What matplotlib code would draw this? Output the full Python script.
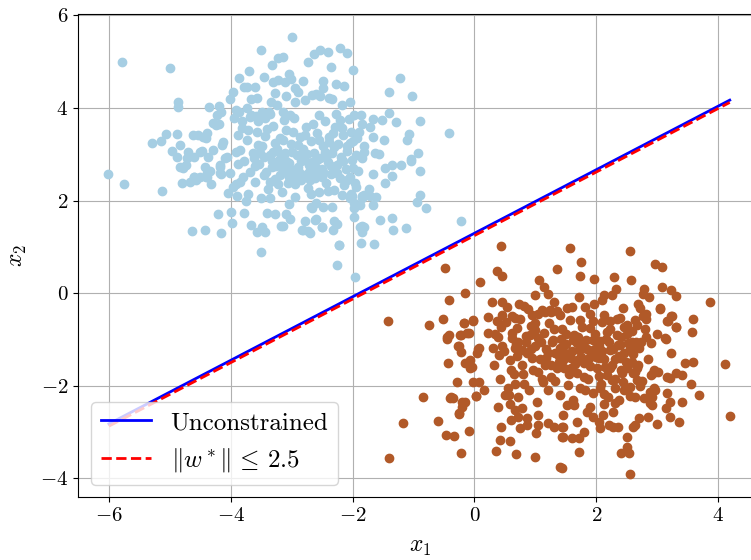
import numpy as np
import matplotlib
matplotlib.use("Agg")
from matplotlib import pyplot as plt

# Class 0 (light blue) points
blue_pts = [
    (-5.78, 5.00), (-5.00, 4.87), (-4.86, 4.13), (-4.86, 4.03), (-3.50, 5.26), (-5.29, 3.25), (-5.14, 3.28),
    (-5.06, 3.44), (-4.89, 3.44), (-4.97, 3.07), (-6.01, 2.57), (-5.76, 2.36), (-5.13, 2.20), (-4.64, 1.34),
    (-4.43, 1.36), (-4.16, 1.30), (-4.21, 1.72), (-3.98, 1.51), (-3.99, 1.76), (-3.79, 1.74), (-3.50, 0.89),
    (-4.80, 2.38), (-4.78, 2.71), (-4.74, 2.76), (-4.61, 2.51), (-4.57, 2.45), (-4.39, 2.59), (-4.41, 2.51),
    (-4.33, 2.35), (-4.16, 2.57), (-4.18, 2.77), (-3.66, 1.48), (-3.57, 1.32), (-3.44, 1.33), (-3.48, 1.44),
    (-3.18, 1.45), (-3.28, 1.71), (-3.41, 1.73), (-2.25, 0.60), (-1.96, 0.34), (-2.23, 1.05), (-1.86, 1.09),
    (-1.65, 1.06), (-1.84, 1.46), (-1.88, 1.43), (-1.55, 1.58), (-1.36, 1.63), (-1.34, 1.37), (-1.12, 1.40),
    (-0.22, 1.56), (-0.95, 1.97), (-0.90, 2.13), (-0.79, 1.85), (-0.89, 2.65), (-1.04, 2.86), (-1.21, 2.77),
    (-1.35, 2.77), (-1.35, 2.54), (-1.47, 2.70), (-1.47, 2.39), (-1.66, 2.57), (-1.62, 2.07), (-1.67, 1.91),
    (-1.73, 2.25), (-1.81, 2.12), (-1.84, 2.05), (-1.98, 1.84), (-1.97, 1.65), (-2.04, 2.05), (-1.88, 1.91),
    (-2.31, 1.56), (-2.25, 1.50), (-2.50, 1.43), (-2.60, 1.60), (-2.73, 1.35), (-2.78, 1.56), (-2.82, 1.37),
    (-3.09, 1.72), (-3.14, 1.45), (-3.03, 1.60), (-2.69, 1.86), (-2.48, 1.87), (-2.34, 1.86), (-2.19, 2.86),
    (-1.84, 2.92), (-3.00, 5.54), (-2.64, 5.17), (-2.53, 5.26), (-2.41, 5.20), (-2.21, 5.30), (-2.10, 5.19),
    (-3.14, 5.11), (-2.74, 4.99), (-2.35, 4.88), (-2.00, 4.82), (-1.22, 4.64), (-1.41, 4.34), (-1.02, 4.25),
    (-0.41, 3.45), (-0.90, 3.71), (-1.29, 3.70), (-1.41, 3.89), (-1.51, 3.75), (-1.66, 3.76), (-1.86, 3.85),
    (-1.98, 3.84), (-1.07, 3.43), (-1.11, 3.31), (-1.49, 3.31), (-0.92, 3.02), (-1.04, 2.89), (-1.63, 3.03),
    (-1.56, 3.00), (-1.81, 3.05), (-1.82, 3.17), (-1.66, 3.38), (-1.71, 3.58), (-1.84, 3.65), (-1.90, 3.49),
    (-1.92, 3.35), (-2.02, 3.48), (-2.10, 3.17), (-2.18, 3.56), (-2.38, 3.26), (-2.32, 3.46), (-2.05, 4.12),
    (-2.17, 4.07), (-2.14, 4.48), (-2.27, 4.52), (-2.49, 4.59), (-2.48, 4.43), (-2.60, 4.30), (-2.66, 4.28),
    (-2.81, 4.59), (-2.94, 4.43), (-2.89, 4.35), (-3.10, 4.25), (-2.95, 4.12), (-3.14, 3.92), (-3.03, 3.84),
    (-2.78, 4.17), (-3.04, 4.74), (-3.11, 4.57), (-3.01, 4.63), (-2.39, 4.21), (-2.34, 4.20), (-2.53, 4.25),
    (-3.70, 4.80), (-3.87, 4.64), (-3.46, 4.67), (-3.33, 4.92), (-3.22, 5.09), (-3.78, 4.46), (-3.61, 4.45),
    (-3.74, 4.45), (-3.96, 4.34), (-4.01, 4.20), (-3.66, 4.19), (-3.57, 4.21), (-3.27, 4.32), (-3.34, 4.12),
    (-3.24, 4.07), (-3.30, 4.57), (-3.23, 4.61), (-4.36, 4.02), (-4.19, 4.05), (-4.16, 3.91), (-4.22, 3.85),
    (-4.20, 3.66), (-4.25, 3.64), (-4.62, 3.42), (-4.54, 3.42), (-4.39, 3.46), (-4.41, 3.35), (-4.29, 3.10),
    (-4.13, 3.27), (-4.48, 3.07), (-4.70, 2.95), (-4.61, 2.94), (-4.37, 2.94), (-4.09, 2.93), (-3.91, 3.96),
    (-3.74, 4.00), (-3.86, 3.91), (-3.94, 3.78), (-3.82, 3.71), (-3.68, 3.81), (-3.49, 3.92), (-3.38, 3.92),
    (-3.82, 3.56), (-3.71, 3.53), (-3.88, 3.42), (-3.55, 3.71), (-3.44, 3.78), (-4.29, 3.67), (-4.45, 3.38),
    (-4.83, 3.20), (-4.70, 3.06), (-4.72, 2.92), (-4.83, 2.73), (-4.89, 2.95), (-4.50, 3.06), (-4.42, 2.73),
    (-4.34, 2.63), (-4.39, 2.52), (-4.18, 2.73), (-4.18, 2.59), (-4.15, 3.20), (-4.07, 2.95), (-4.01, 2.59),
    (-3.85, 2.41), (-3.96, 2.30), (-4.04, 2.16), (-3.90, 2.09), (-4.50, 2.52), (-4.61, 2.52), (-4.67, 2.41),
    (-2.83, 1.37), (-2.70, 1.30), (-2.62, 1.58), (-2.51, 1.44), (-2.32, 1.37), (-2.23, 1.04), (-2.67, 1.84),
    (-2.18, 2.12), (-2.01, 2.09), (-1.98, 1.94), (-1.85, 2.09), (-1.71, 2.09), (-1.85, 1.33), (-1.82, 1.44),
    # dense core
    (-3.85, 3.10), (-3.78, 2.85), (-3.74, 3.30), (-3.69, 2.62), (-3.64, 3.02), (-3.61, 2.40), (-3.57, 3.48),
    (-3.53, 2.80), (-3.49, 3.18), (-3.46, 2.55), (-3.43, 3.40), (-3.39, 2.25), (-3.36, 2.98), (-3.33, 2.72),
    (-3.31, 3.62), (-3.27, 2.47), (-3.24, 3.12), (-3.21, 2.88), (-3.19, 3.36), (-3.16, 2.18), (-3.14, 2.63),
    (-3.11, 3.02), (-3.09, 3.52), (-3.06, 2.38), (-3.04, 2.82), (-3.01, 3.22), (-2.99, 2.58), (-2.96, 3.78),
    (-2.94, 2.08), (-2.92, 2.98), (-2.89, 2.72), (-2.87, 3.38), (-2.84, 2.44), (-2.81, 3.12), (-2.79, 2.88),
    (-2.76, 3.58), (-2.74, 2.28), (-2.71, 2.62), (-2.69, 3.28), (-2.66, 2.84), (-2.64, 3.03), (-2.61, 2.48),
    (-2.59, 3.47), (-2.56, 2.18), (-2.54, 2.93), (-2.51, 2.68), (-2.49, 3.18), (-2.46, 3.72), (-2.44, 2.38),
    (-2.41, 2.83), (-2.39, 3.38), (-2.36, 2.58), (-2.34, 3.02), (-2.31, 2.23), (-2.29, 3.58), (-2.26, 2.78),
    (-2.24, 3.22), (-2.21, 2.48), (-2.19, 2.95), (-2.16, 3.42), (-2.14, 2.33), (-2.11, 2.68), (-2.09, 3.08),
    (-2.06, 3.76), (-2.04, 2.52), (-2.01, 2.88), (-1.99, 3.28), (-1.96, 2.38), (-1.94, 2.98), (-1.91, 2.63),
    (-3.80, 2.50), (-3.72, 2.15), (-3.66, 3.85), (-3.60, 2.75), (-3.55, 3.20), (-3.50, 2.05), (-3.45, 2.95),
    (-3.40, 3.55), (-3.35, 2.40), (-3.30, 3.05), (-3.25, 2.75), (-3.20, 2.55), (-3.15, 3.30), (-3.10, 2.85),
    (-3.05, 2.50), (-3.00, 3.05), (-2.95, 2.35), (-2.90, 3.20), (-2.85, 2.85), (-2.80, 2.55), (-2.75, 3.00),
    (-2.70, 2.45), (-2.65, 3.65), (-2.60, 2.70), (-2.55, 3.30), (-2.50, 2.50), (-2.45, 3.05), (-2.40, 2.20),
    (-2.35, 2.75), (-2.30, 3.15), (-2.25, 2.60), (-2.20, 3.75), (-2.15, 2.85), (-2.10, 2.45), (-2.05, 3.25),
    (-2.00, 2.70), (-3.62, 2.92), (-3.22, 2.35), (-2.88, 2.62), (-2.58, 2.88), (-3.42, 2.62), (-3.02, 2.68),
    (-2.72, 2.78), (-2.48, 2.62), (-3.12, 2.72), (-2.82, 2.98), (-3.32, 2.85), (-2.62, 2.58), (-2.92, 2.48),
    (-3.52, 3.02), (-3.18, 2.98), (-2.78, 3.42), (-2.42, 2.98), (-3.28, 3.25), (-2.98, 3.48), (-2.68, 2.15),
    (-3.58, 3.82), (-3.12, 3.75), (-2.55, 3.85), (-2.28, 3.88), (-3.36, 3.88), (-3.92, 3.05), (-3.88, 2.80),
    (-3.92, 2.35), (-3.75, 2.00), (-2.02, 2.15), (-1.95, 2.30), (-2.60, 1.95), (-3.05, 1.92), (-3.35, 2.05),
]

# Class 1 (brown) points
brown_pts = [
    (0.44, 1.03), (-0.49, 0.55), (1.35, 0.52), (0.37, 0.47), (0.45, 0.37), (0.09, 0.24), (1.06, 0.28),
    (1.14, 0.14), (0.99, -0.03), (1.21, -0.02), (-0.16, 0.01), (-0.41, -0.14), (-1.42, -0.61), (-0.74, -0.68),
    (-0.52, -0.55), (-0.17, -0.65), (-0.03, -0.58), (-0.09, -0.86), (-0.22, -0.90), (-0.42, -0.90), (-0.45, -0.99),
    (-0.27, -1.14), (-0.22, -1.27), (0.08, -1.19), (0.04, -1.30), (0.29, -0.19), (0.45, -0.18), (0.54, -0.29),
    (0.73, -0.23), (0.82, -0.27), (0.22, -0.52), (0.37, -0.61), (0.45, -0.47), (0.61, -0.50), (0.67, -0.54),
    (0.70, -0.74), (0.44, -0.72), (0.23, -0.86), (0.34, -0.89), (0.31, -1.19), (0.41, -1.33), (0.61, -0.97),
    (0.72, -1.05), (0.78, -1.22), (0.67, -1.19), (0.94, -0.47), (1.00, -0.65), (1.11, -0.36), (1.16, -0.40),
    (1.24, -0.36), (1.30, -0.18), (0.91, -0.90), (1.05, -0.97), (1.56, 0.97), (2.56, 0.91), (1.75, 0.68),
    (2.97, 0.63), (3.08, 0.57), (1.74, 0.37), (1.97, 0.30), (2.29, 0.35), (2.57, 0.29), (2.32, 0.09),
    (2.26, -0.04), (2.12, -0.04), (2.10, -0.14), (1.96, -0.24), (1.72, -0.09), (1.81, -0.30), (2.79, 0.10),
    (2.77, -0.01), (2.86, -0.09), (3.07, 0.13), (3.23, 0.07), (3.31, -0.05), (3.86, -0.19), (2.43, -0.32),
    (2.69, -0.23), (2.72, -0.32), (2.81, -0.45), (2.76, -0.49), (3.05, -0.34), (3.23, -0.49), (3.18, -0.59),
    (3.31, -0.72), (3.58, -0.55), (3.57, -0.84), (3.14, -0.98), (3.23, -1.30), (2.81, -0.94), (2.74, -1.05),
    (2.58, -1.05), (2.12, -0.47), (2.39, -0.54), (2.50, -0.68), (2.67, -0.68), (2.23, -0.61), (1.95, -0.61),
    (1.74, -0.58), (1.90, -0.76), (2.17, -0.83), (2.34, -0.90), (2.06, -1.04), (2.39, -1.12), (2.56, -1.19),
    (1.74, -1.12), (1.95, -1.22), (2.23, -1.22), (1.63, -0.90), (1.52, -0.32), (1.41, -0.47),
    (-1.40, -3.55), (-1.17, -2.80), (-0.85, -2.24), (-0.60, -2.76), (-0.46, -3.06), (-0.34, -3.08), (-0.38, -2.25),
    (-0.36, -2.27), (-0.16, -2.34), (-0.20, -2.45), (-0.26, -2.61), (-0.09, -2.97), (-0.22, -3.44), (-0.44, -1.50),
    (-0.29, -1.91), (0.03, -2.21), (0.07, -1.91), (0.15, -2.09), (-0.02, -1.91), (-0.16, -1.51), (-0.04, -1.59),
    (0.38, -2.45), (0.44, -2.89), (0.42, -3.17), (0.59, -3.19), (0.35, -3.40), (0.68, -3.48), (1.00, -3.54),
    (1.41, -3.76), (0.60, -2.74), (0.75, -2.91), (0.86, -2.84), (0.86, -2.69), (1.01, -3.02), (1.04, -2.84),
    (1.05, -2.63), (1.21, -2.81), (1.31, -2.88), (1.45, -2.88), (1.44, -3.10), (0.59, -2.40), (0.67, -2.52),
    (0.72, -2.67), (0.78, -2.48), (0.56, -2.20), (4.12, -1.53), (4.19, -2.65), (3.69, -2.19), (3.55, -1.97),
    (3.46, -1.51), (3.59, -1.49), (3.21, -1.84), (3.30, -1.73), (3.41, -1.76), (3.16, -2.16), (3.21, -2.34),
    (3.15, -2.47), (3.40, -2.34), (3.21, -2.68), (3.36, -2.77), (2.99, -2.83), (2.85, -2.68), (2.70, -2.69),
    (2.64, -2.84), (2.60, -2.89), (2.90, -1.76), (3.01, -1.71), (2.94, -2.05), (2.88, -2.14), (2.91, -2.41),
    (2.78, -2.27), (2.56, -2.21), (2.64, -2.25), (2.50, -3.10), (2.50, -3.31), (2.41, -3.44), (2.53, -3.46),
    (2.56, -3.90), (2.36, -2.88), (2.28, -2.88), (2.20, -2.84), (2.06, -2.92), (2.04, -2.77), (2.11, -2.63),
    (2.28, -2.57), (1.95, -2.67), (1.79, -2.99), (1.71, -3.13), (1.60, -3.13), (1.46, -3.10), (1.44, -2.88),
    (1.68, -2.77), (1.72, -3.42), (1.44, -3.77), (2.31, -2.38), (2.12, -2.40), (1.90, -2.45), (1.85, -2.56),
    (1.63, -2.41), (1.52, -2.41), (1.46, -2.63), (2.64, -1.69), (2.67, -1.87), (2.69, -1.55), (2.58, -1.48),
    (2.39, -1.40), (2.42, -1.73), (2.50, -1.62), (2.17, -1.76), (2.23, -1.62), (2.04, -1.40), (2.06, -2.05),
    (2.31, -2.05), (2.45, -2.09), (3.13, -0.97), (3.24, -0.50), (3.30, -0.72), (3.05, -0.32), (3.16, -0.61),
    (3.16, -1.80), (2.93, -1.73), (2.97, -2.09), (2.91, -2.23), (2.88, -2.38), (-0.45, -0.94), (-0.21, -2.34),
    (-0.40, -2.27), (-0.26, -2.59), (0.03, -2.22), (-0.07, -1.62), (0.05, -1.21), (-0.02, -0.59), (-0.18, -0.65),
    (-0.23, -0.90), (-0.12, -0.86), (-0.26, -1.15), (-0.07, -1.44),
    # dense core
    (0.32, -1.55), (0.38, -0.95), (0.42, -1.85), (0.48, -1.25), (0.52, -0.62), (0.55, -2.05), (0.58, -1.45),
    (0.62, -0.85), (0.65, -1.75), (0.68, -1.10), (0.72, -2.25), (0.75, -0.55), (0.78, -1.55), (0.81, -1.95),
    (0.84, -0.92), (0.87, -1.30), (0.90, -2.10), (0.93, -0.70), (0.96, -1.65), (0.99, -1.15), (1.02, -2.35),
    (1.05, -0.45), (1.08, -1.42), (1.11, -1.85), (1.14, -0.85), (1.17, -1.20), (1.20, -2.10), (1.23, -0.65),
    (1.26, -1.55), (1.29, -1.02), (1.32, -1.90), (1.35, -0.38), (1.38, -1.35), (1.41, -2.20), (1.44, -0.78),
    (1.47, -1.62), (1.50, -1.10), (1.53, -1.98), (1.56, -0.58), (1.59, -1.40), (1.62, -2.30), (1.65, -0.92),
    (1.68, -1.72), (1.71, -1.22), (1.74, -2.05), (1.77, -0.72), (1.80, -1.50), (1.83, -1.00), (1.86, -1.85),
    (1.89, -0.45), (1.92, -1.30), (1.95, -2.15), (1.98, -0.88), (2.01, -1.62), (2.04, -1.15), (2.07, -1.95),
    (2.10, -0.62), (2.13, -1.42), (2.16, -0.98), (2.19, -2.25), (2.22, -0.78), (2.25, -1.55), (2.28, -1.20),
    (2.31, -1.85), (2.34, -0.55), (2.37, -1.35), (2.40, -0.95), (2.43, -1.92), (2.46, -0.72), (2.49, -1.48),
    (2.52, -1.08), (2.55, -2.02), (2.58, -0.82), (2.61, -1.32), (2.64, -0.58), (2.67, -1.62), (2.70, -1.18),
    (2.75, -1.90), (2.80, -0.78), (2.85, -1.42), (2.90, -1.08), (2.95, -1.65), (3.00, -0.88),
    (0.45, -1.15), (0.60, -1.65), (0.70, -1.35), (0.80, -1.75), (0.85, -1.05), (0.95, -1.40), (1.00, -0.80),
    (1.05, -1.70), (1.10, -1.05), (1.15, -1.55), (1.20, -1.30), (1.25, -1.80), (1.30, -0.78), (1.35, -1.62),
    (1.40, -1.18), (1.45, -1.45), (1.50, -0.88), (1.55, -1.75), (1.60, -1.25), (1.65, -1.52), (1.70, -0.95),
    (1.75, -1.38), (1.80, -1.80), (1.85, -1.20), (1.90, -1.58), (1.95, -1.02), (2.00, -1.38), (2.05, -1.78),
    (2.10, -1.25), (2.15, -1.60), (2.20, -1.05), (2.25, -1.88), (2.30, -1.42), (2.35, -1.12), (2.40, -1.65),
    (2.45, -1.28), (2.50, -0.88), (2.55, -1.50), (2.60, -1.72), (2.65, -1.05), (1.28, -1.05), (1.48, -1.28),
    (1.68, -1.08), (1.88, -1.40), (1.38, -1.48), (1.58, -1.62), (1.78, -1.18), (1.18, -1.40), (1.98, -1.20),
    (1.62, -1.02), (1.42, -0.98), (1.72, -1.42), (1.52, -1.38), (1.32, -1.28), (0.92, -1.20), (1.12, -1.92),
    (0.66, -1.95), (0.50, -2.20), (1.82, -2.10), (2.12, -2.18), (2.38, -2.30), (2.72, -2.00), (2.82, -0.55),
    (1.25, -0.40), (0.88, -0.35), (1.60, -0.30),
]

# decision boundaries (end points over the data's x range)
line_x = [-6.0, 4.19]
line_unconstrained = [-2.82, 4.17]
line_constrained = [-2.87, 4.12]

plt.rcParams['font.family'] = 'serif'
plt.rcParams['font.serif'] = ['cmr10']
plt.rcParams['mathtext.fontset'] = 'cm'
plt.rcParams['axes.formatter.use_mathtext'] = True
plt.rcParams['axes.unicode_minus'] = True

blue = np.array(blue_pts)
brown = np.array(brown_pts)

fig = plt.figure(figsize=(7.51, 5.6), dpi=100)
ax = fig.add_axes([0.1039, 0.1125, 0.9108, 0.8625])
ax.set_axisbelow(True)
ax.grid(True, color='#b0b0b0', linewidth=0.8)

ax.scatter(blue[:, 0], blue[:, 1], s=36, color='#a6cee3')
ax.scatter(brown[:, 0], brown[:, 1], s=36, color='#b15928')
ax.plot(line_x, line_unconstrained, color='blue', lw=2, label='Unconstrained')
ax.plot(line_x, line_constrained, color='red', lw=2, ls='--',
        label=r'$\|w^*\|\,\leq\,2.5$')

ax.set_xlim(-6.507, 4.72)
ax.set_ylim(-4.40, 6.03)
ax.set_xticks([-6, -4, -2, 0, 2, 4])
ax.set_yticks([-4, -2, 0, 2, 4, 6])
ax.tick_params(labelsize=15)
ax.set_xlabel(r'$x_1$', fontsize=17, labelpad=8)
ax.set_ylabel(r'$x_2$', fontsize=17, labelpad=8)
ax.legend(loc='lower left', fontsize=18)

fig.savefig('out.png', dpi=100)
